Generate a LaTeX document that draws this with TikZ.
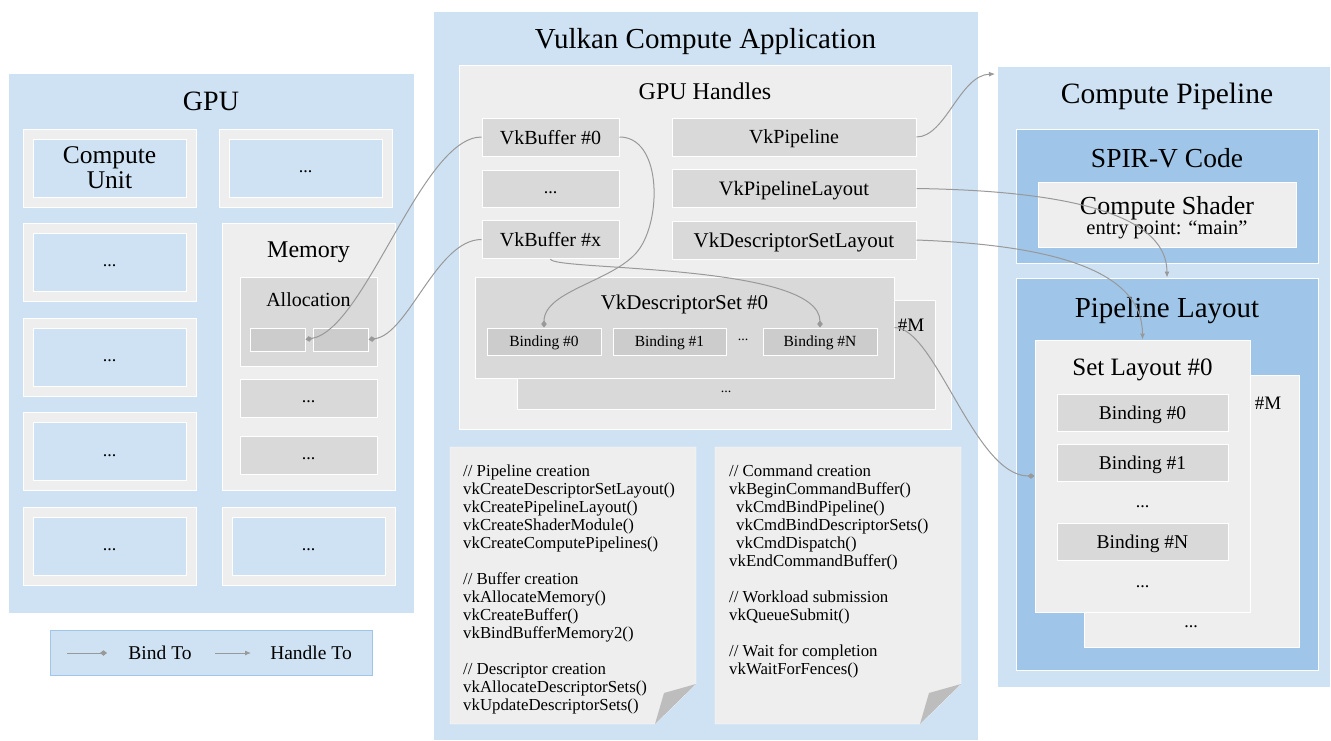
\documentclass[tikz,border=0pt]{standalone}
\usepackage{fontspec}
\setmainfont{Liberation Serif}
\usetikzlibrary{arrows.meta, positioning}
\definecolor{panelblue}{HTML}{CFE2F3}
\definecolor{deepblue}{HTML}{9FC5E8}
\definecolor{paper}{HTML}{EEEEEE}
\definecolor{handlegray}{HTML}{D9D9D9}
\definecolor{slotgray}{HTML}{CCCCCC}
\definecolor{foldgray}{HTML}{BDBDBD}
\definecolor{wiregray}{HTML}{999999}
\newcommand{\pxfont}[2]{\fontsize{#1}{#2}\selectfont}

\begin{document}
\begin{tikzpicture}[x=1pt, y=-1pt, every node/.append style={text depth=0pt},
    wh/.style 2 args={minimum width=#1pt, minimum height=#2pt, inner sep=0pt},
    panel/.style={fill=panelblue, draw=white, line width=1pt},
    deep/.style={fill=deepblue, draw=white, line width=1pt},
    sheet/.style={fill=paper, draw=white, line width=1pt},
    handle/.style={fill=handlegray, draw=white, line width=1pt},
    slot/.style={fill=slotgray, draw=white, line width=1pt},
    bigtitle/.style={font=\pxfont{29}{32}},
    subtitle/.style={font=\pxfont{25}{27}},
    hfont/.style={font=\pxfont{20}{22}},
    dots/.style={font=\pxfont{18}{20}, text height=9pt},
    bindto/.style={draw=wiregray, line width=1pt, -{Diamond[length=7pt, width=5.5pt]}},
    handleto/.style={draw=wiregray, line width=1pt, -{Latex[length=6pt, width=5pt]}}]
  \useasboundingbox (0,0) rectangle (1331,740);

  % --- GPU ---
  \node[panel, wh={406}{540}] (gpu) at (211,343) {};
  \node[font=\pxfont{28}{32}] (gpuT) at (211,101) {GPU};
  \node[sheet, wh={173}{78}] (cuA) at (109.5,168) {};
  \node[panel, wh={153}{58}, font=\pxfont{25.5}{25}, align=center] (cuAin) at (cuA) {Compute\\Unit};
  \node[sheet, wh={173}{78}] (cuB) at (109.5,262) {};
  \node[panel, wh={153}{58}, dots] (cuBin) at (cuB) {...};
  \node[sheet, wh={173}{78}] (cuC) at (109.5,357) {};
  \node[panel, wh={153}{58}, dots] (cuCin) at (cuC) {...};
  \node[sheet, wh={173}{78}] (cuD) at (109.5,451.5) {};
  \node[panel, wh={153}{58}, dots] (cuDin) at (cuD) {...};
  \node[sheet, wh={173}{78}] (cuE) at (109.5,546) {};
  \node[panel, wh={153}{58}, dots] (cuEin) at (cuE) {...};
  \node[sheet, wh={173}{78}] (cuR) at (305.5,168) {};
  \node[panel, wh={153}{58}, dots] (cuRin) at (cuR) {...};
  \node[sheet, wh={173}{78}] (cuS) at (308.5,546) {};
  \node[panel, wh={153}{58}, dots] (cuSin) at (cuS) {...};
  % Memory
  \node[sheet, wh={173}{267}] (mem) at (308.5,356.5) {};
  \node[font=\pxfont{24}{26}] (memT) at (308.5,250) {Memory};
  \node[handle, wh={137}{89}] (alloc) at (308.5,321.5) {};
  \node[font=\pxfont{20}{22}] (allocT) at (308.5,300) {Allocation};
  \node[slot, wh={55}{23}] (slotA) at (277.5,339.5) {};
  \node[slot, wh={55}{23}] (slotB) at (340.5,339.5) {};
  \node[handle, wh={137}{38}, dots] (memB) at (308.5,398) {...};
  \node[handle, wh={137}{38}, dots] (memC) at (308.5,455) {...};

  % --- Legend ---
  \node[fill=panelblue, draw=deepblue, line width=1pt, wh={322}{45}] (legend) at (211,652.5) {};
  \coordinate (bindS) at (67,653);
  \coordinate (bindE) at (107,653);
  \coordinate (handS) at (215,653);
  \coordinate (handE) at (251,653);
  \draw[bindto] (bindS) -- (bindE);
  \draw[handleto] (handS) -- (handE);
  \node[font=\pxfont{19.5}{22}] (bindT) at (160,653) {Bind To};
  \node[font=\pxfont{19.5}{22}] (handT) at (311,653) {Handle To};

  % --- Vulkan Compute Application ---
  \node[panel, wh={545}{729}] (vk) at (705.5,375.5) {};
  \node[bigtitle] (vkT) at (705.5,38) {Vulkan Compute Application};
  \node[sheet, wh={492}{364}] (hdl) at (705,247) {};
  \node[font=\pxfont{24}{26}] (hdlT) at (705,91) {GPU Handles};
  \node[handle, wh={137}{38}, hfont] (bufA) at (550.5,137) {VkBuffer \#0};
  \node[handle, wh={137}{37}, dots] (bufDots) at (550.5,189) {...};
  \node[handle, wh={137}{38}, hfont] (bufX) at (550.5,239.5) {VkBuffer \#x};
  \node[handle, wh={244}{38}, hfont] (pipe) at (794,137) {VkPipeline};
  \node[handle, wh={244}{38}, font=\pxfont{20.5}{22}] (pipeL) at (794,188.5) {VkPipelineLayout};
  \node[handle, wh={244}{38}, font=\pxfont{21}{22}] (dsl) at (794,240) {VkDescriptorSetLayout};
  % Descriptor sets
  \node[handle, wh={418}{109}] (descM) at (726,354.5) {};
  \node[font=\pxfont{19}{21}] (descMT) at (911,325) {\#M};
  \node[font=\pxfont{14}{16}] (descMDots) at (726,392) {...};
  \node[handle, wh={419}{101}] (descA) at (684.5,327.5) {};
  \node[font=\pxfont{21}{24}] (descAT) at (684.5,302) {VkDescriptorSet \#0};
  \node[slot, wh={114}{27}, font=\pxfont{15.5}{17}] (bindA) at (544,341.5) {Binding \#0};
  \node[slot, wh={113}{27}, font=\pxfont{15.5}{17}] (bindB) at (669.5,341.5) {Binding \#1};
  \node[font=\pxfont{14}{16}] (bindDots) at (743,340) {...};
  \node[slot, wh={114}{27}, font=\pxfont{15.5}{17}] (bindN) at (820,341.5) {Binding \#N};
  % Code sheets
  \filldraw[fill=paper, draw=white] (450,447) -- (696,447) -- (696,684) -- (655,724) -- (450,724) -- cycle;
  \fill[foldgray] (696,684) -- (664,693) -- (655,724) -- cycle;
  \filldraw[fill=paper, draw=white] (715,447) -- (961,447) -- (961,684) -- (920,724) -- (715,724) -- cycle;
  \fill[foldgray] (961,684) -- (929,693) -- (920,724) -- cycle;
  \node[anchor=north west, inner sep=0pt, align=left, font=\pxfont{16.8}{18}] (codeA) at (463,465)
    {// Pipeline creation\\ vkCreateDescriptorSetLayout()\\ vkCreatePipelineLayout()\\
     vkCreateShaderModule()\\ vkCreateComputePipelines()\\[18pt]
     // Buffer creation\\ vkAllocateMemory()\\ vkCreateBuffer()\\ vkBindBufferMemory2()\\[18pt]
     // Descriptor creation\\ vkAllocateDescriptorSets()\\ vkUpdateDescriptorSets()};
  \node[anchor=north west, inner sep=0pt, align=left, font=\pxfont{16.8}{18}] (codeB) at (729,465)
    {// Command creation\\ vkBeginCommandBuffer()\\ \hspace*{7pt}vkCmdBindPipeline()\\
     \hspace*{7pt}vkCmdBindDescriptorSets()\\ \hspace*{7pt}vkCmdDispatch()\\ vkEndCommandBuffer()\\[18pt]
     // Workload submission\\ vkQueueSubmit()\\[18pt]
     // Wait for completion\\ vkWaitForFences()};

  % --- Compute Pipeline ---
  \node[panel, wh={333}{621}] (cpipe) at (1163.5,376.5) {};
  \node[font=\pxfont{29.5}{32}] (cpipeT) at (1167,93) {Compute Pipeline};
  \node[deep, wh={302}{134}] (spir) at (1167,196) {};
  \node[font=\pxfont{27.5}{30}] (spirT) at (1167,158) {SPIR-V Code};
  \node[sheet, wh={258}{65}] (shader) at (1167,214.5) {};
  \node[font=\pxfont{26}{27}] (shaderT) at (1167,205) {Compute Shader};
  \node[font=\pxfont{20.5}{21}] (shaderE) at (1167,228) {entry point: “main”};
  \node[deep, wh={302}{392}] (plyt) at (1167,474) {};
  \node[font=\pxfont{29}{30}] (plytT) at (1167,307) {Pipeline Layout};
  \node[sheet, wh={215}{272}] (setM) at (1191.5,511) {};
  \node[font=\pxfont{19}{21}] (setMT) at (1268,403) {\#M};
  \node[dots] (setMDots) at (1191,623) {...};
  \node[sheet, wh={215}{272}] (setL) at (1142.5,476) {};
  \node[subtitle] (setLT) at (1142.5,367) {Set Layout \#0};
  \node[handle, wh={171}{37}, font=\pxfont{19.5}{21}] (slA) at (1142.5,412.5) {Binding \#0};
  \node[handle, wh={171}{37}, font=\pxfont{19.5}{21}] (slB) at (1142.5,462.5) {Binding \#1};
  \node[dots] (slDots) at (1142.5,503) {...};
  \node[handle, wh={171}{37}, font=\pxfont{19.5}{21}] (slN) at (1142.5,541.5) {Binding \#N};
  \node[dots] (slDotsB) at (1142.5,583) {...};

  % --- Connectors ---
  \coordinate (cpipeIn) at (995,74);
  \draw[bindto] (bufA.west) .. controls +(-60,0) and +(60,-10) .. (slotA.east);
  \draw[bindto] (bufX.west) .. controls +(-45,0) and +(40,-5) .. (slotB.east);
  \draw[bindto] (bufA.east) .. controls +(41,0) and +(22,-33) .. (640,248)
    .. controls +(-22,33) and +(0,-38) .. (bindA.north);
  \draw[bindto] (bufX.south) .. controls +(0,12) and +(0,-65) .. (bindN.north);
  \draw[bindto] (descA.east) .. controls +(41,0) and +(-60,0) .. (setL.west);
  \draw[handleto] (pipe.east) .. controls +(29,0) and +(-35,1) .. (cpipeIn);
  \draw[handleto] (pipeL.east) .. controls +(134,2) and +(0,-68) .. (plyt.north);
  \draw[handleto] (dsl.east) .. controls +(134,5) and +(0,-70) .. (setL.north);
\end{tikzpicture}
\end{document}
